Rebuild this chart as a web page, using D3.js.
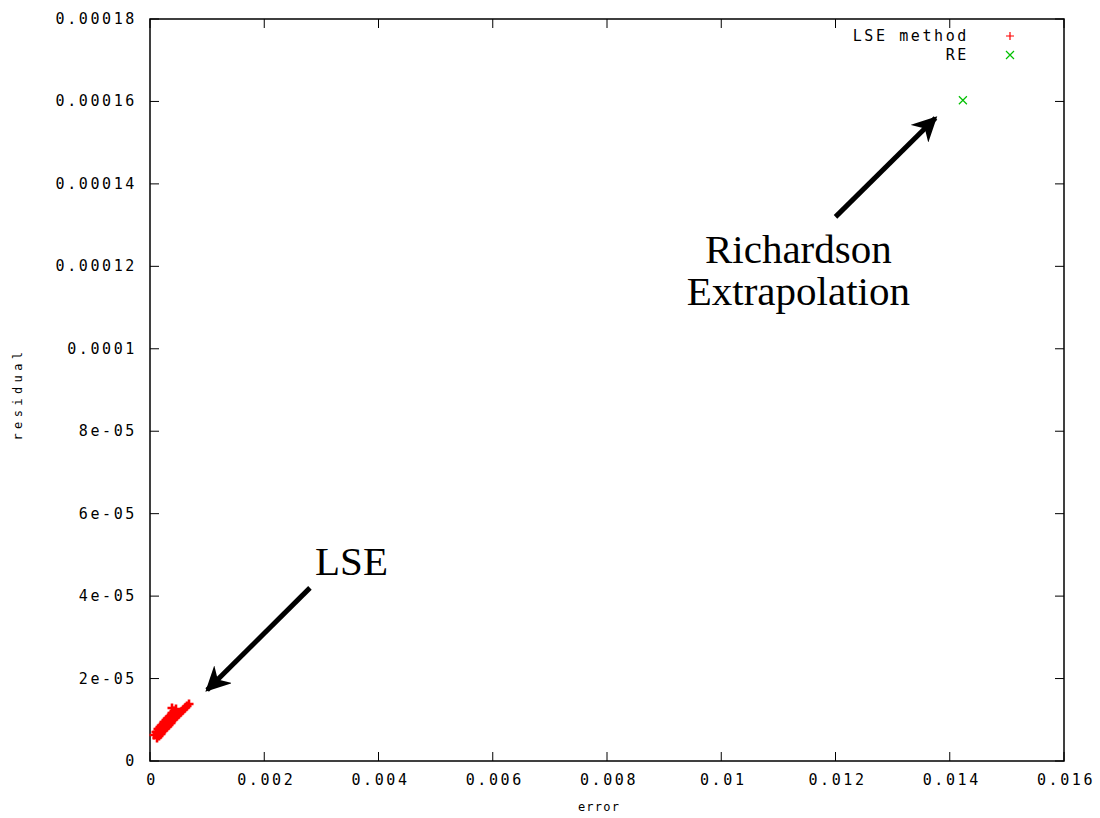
<!DOCTYPE html>
<html>
<head>
<meta charset="utf-8">
<script src="https://cdn.jsdelivr.net/npm/d3@7"></script>
<style>
	body { margin: 0; background: #fff; }
	.tick-label { font-family: "DejaVu Sans Mono", monospace; font-size: 15px; letter-spacing: 2.6px; fill: #000; }
	.axis-title { font-family: "DejaVu Sans Mono", monospace; font-size: 12px; letter-spacing: 1.2px; fill: #000; }
	.axis-title.rot { letter-spacing: 4.4px; }
	.note { font-family: "Liberation Serif", "Times New Roman", serif; font-size: 41px; fill: #000; }
</style>
</head>
<body>
<div id="chart"></div>
<script>
// tick values
let xTicks = [0, 0.002, 0.004, 0.006, 0.008, 0.01, 0.012, 0.014, 0.016];
let yTicks = [0, 2e-5, 4e-5, 6e-5, 8e-5, 0.0001, 0.00012, 0.00014, 0.00016, 0.00018];
let xTickLabels = ["0", "0.002", "0.004", "0.006", "0.008", "0.01", "0.012", "0.014", "0.016"];
let yTickLabels = ["0", "2e-05", "4e-05", "6e-05", "8e-05", "0.0001", "0.00012", "0.00014", "0.00016", "0.00018"];

// LSE method: error, residual
let lseError = [0.000070, 0.000105, 0.000140, 0.000175, 0.000210, 0.000245, 0.000280, 0.000315, 0.000350, 0.000385, 0.000420, 0.000385, 0.000455,
	0.000123, 0.000158, 0.000193, 0.000228, 0.000263, 0.000298, 0.000333, 0.000368, 0.000403, 0.000438, 0.000473, 0.000508, 0.000543, 0.000578, 0.000613, 0.000648, 0.000683];
let lseResidual = [6.31e-6, 7.04e-6, 7.77e-6, 8.25e-6, 8.74e-6, 9.47e-6, 9.95e-6, 1.044e-5, 1.092e-5, 1.165e-5, 1.214e-5, 1.286e-5, 1.262e-5,
	5.58e-6, 6.07e-6, 6.55e-6, 7.28e-6, 7.77e-6, 8.25e-6, 8.74e-6, 9.22e-6, 9.95e-6, 1.044e-5, 1.092e-5, 1.141e-5, 1.189e-5, 1.238e-5, 1.286e-5, 1.335e-5, 1.383e-5];

// Richardson extrapolation
let reError = [0.01423];
let reResidual = [0.0001603];

// annotation arrows (data coords): from -> to
let arrows = [
	{ x1: 0.0028, y1: 4.2e-5, x2: 0.001, y2: 1.72e-5 },
	{ x1: 0.012, y1: 0.000132, x2: 0.01375, y2: 0.000156 }
];
let labels = [
	{ text: "LSE", x: 0.00289, y: 4.51e-5, anchor: "start" },
	{ text: "Richardson", x: 0.01135, y: 0.0001207, anchor: "middle" },
	{ text: "Extrapolation", x: 0.01135, y: 0.0001105, anchor: "middle" }
];

let width = 1100, height = 818;
let margin = { top: 19, right: 36, bottom: 57, left: 150 };
let w = width - margin.left - margin.right;
let h = height - margin.top - margin.bottom;

let svg = d3.select("#chart").append("svg")
	.attr("width", width)
	.attr("height", height);

svg.append("defs").append("marker")
	.attr("id", "head")
	.attr("viewBox", "0 0 10 10")
	.attr("refX", 9)
	.attr("refY", 5)
	.attr("markerWidth", 5)
	.attr("markerHeight", 5)
	.attr("markerUnits", "strokeWidth")
	.attr("orient", "auto")
	.append("path")
	.attr("d", "M0,0 L10,5 L0,10 L3,5 Z")
	.attr("fill", "#000");

let g = svg.append("g")
	.attr("transform", "translate(" + margin.left + "," + margin.top + ")");

let x = d3.scaleLinear().domain([0, 0.016]).range([0, w]);
let y = d3.scaleLinear().domain([0, 0.00018]).range([h, 0]);

// ticks, inward on all four sides
let tickLen = 9;
let tickG = g.append("g").attr("stroke", "#000").attr("stroke-width", 1);
xTicks.forEach(v => {
	tickG.append("line").attr("x1", x(v)).attr("x2", x(v)).attr("y1", h).attr("y2", h - tickLen);
	tickG.append("line").attr("x1", x(v)).attr("x2", x(v)).attr("y1", 0).attr("y2", tickLen);
});
yTicks.forEach(v => {
	tickG.append("line").attr("x1", 0).attr("x2", tickLen).attr("y1", y(v)).attr("y2", y(v));
	tickG.append("line").attr("x1", w).attr("x2", w - tickLen).attr("y1", y(v)).attr("y2", y(v));
});

// tick labels
g.selectAll(".xl").data(xTicks).enter().append("text")
	.attr("class", "tick-label")
	.attr("x", d => x(d) + 2)
	.attr("y", h + 24)
	.attr("text-anchor", "middle")
	.text((d, i) => xTickLabels[i]);

g.selectAll(".yl").data(yTicks).enter().append("text")
	.attr("class", "tick-label")
	.attr("x", -13)
	.attr("y", d => y(d) + 5)
	.attr("text-anchor", "end")
	.text((d, i) => yTickLabels[i]);

// border
g.append("rect")
	.attr("width", w).attr("height", h)
	.attr("fill", "none").attr("stroke", "#000").attr("stroke-width", 1.5);

// axis titles
g.append("text").attr("class", "axis-title")
	.attr("x", w / 2 - 8).attr("y", h + 50)
	.attr("text-anchor", "middle").text("error");
g.append("text").attr("class", "axis-title rot")
	.attr("transform", "translate(" + (-128) + "," + (h / 2 + 4) + ") rotate(-90)")
	.attr("text-anchor", "middle").text("residual");

// markers
let plus = (sel, s) => sel.attr("d", "M" + (-s) + ",0H" + s + "M0," + (-s) + "V" + s);
let cross = (sel, s) => sel.attr("d", "M" + (-s) + "," + (-s) + "L" + s + "," + s + "M" + (-s) + "," + s + "L" + s + "," + (-s));

g.selectAll(".lse").data(lseError).enter().append("path")
	.attr("transform", (d, i) => "translate(" + x(d) + "," + y(lseResidual[i]) + ")")
	.call(plus, 4.5)
	.attr("stroke", "#ff0000").attr("stroke-width", 2.6).attr("fill", "none");

g.selectAll(".re").data(reError).enter().append("path")
	.attr("transform", (d, i) => "translate(" + x(d) + "," + y(reResidual[i]) + ")")
	.call(cross, 4)
	.attr("stroke", "#00c000").attr("stroke-width", 1.2).attr("fill", "none");

// legend
let legend = g.append("g").attr("transform", "translate(" + (w - 54) + ",17)");
legend.append("text").attr("class", "tick-label").attr("x", -41).attr("y", 5)
	.attr("text-anchor", "end").text("LSE method");
legend.append("text").attr("class", "tick-label").attr("x", -41).attr("y", 24)
	.attr("text-anchor", "end").text("RE");
legend.append("path").attr("transform", "translate(0,0)").call(plus, 4)
	.attr("stroke", "#ff0000").attr("stroke-width", 1.2).attr("fill", "none");
legend.append("path").attr("transform", "translate(0,19)").call(cross, 4)
	.attr("stroke", "#00c000").attr("stroke-width", 1.2).attr("fill", "none");

// annotations
g.selectAll(".arrow").data(arrows).enter().append("line")
	.attr("x1", d => x(d.x1)).attr("y1", d => y(d.y1))
	.attr("x2", d => x(d.x2)).attr("y2", d => y(d.y2))
	.attr("stroke", "#000").attr("stroke-width", 5)
	.attr("marker-end", "url(#head)");

g.selectAll(".note").data(labels).enter().append("text")
	.attr("class", "note")
	.attr("x", d => x(d.x)).attr("y", d => y(d.y))
	.attr("text-anchor", d => d.anchor)
	.text(d => d.text);
</script>
</body>
</html>
